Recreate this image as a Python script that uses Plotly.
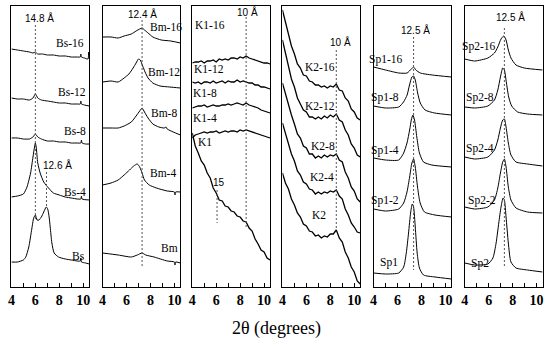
import plotly.graph_objects as go

# ---------------- data (2theta in degrees, y = relative intensity incl. stacking offset) -------------
# Panel 1 : Bs
BS16_X = [4.0, 4.5, 5.0, 5.5, 5.8, 6.0, 6.2, 6.6, 7.0, 7.5, 8.0, 8.5, 9.0, 9.5, 9.75, 9.8, 9.85, 10.1, 10.4, 10.45, 10.5]
BS16_Y = [238, 237, 236, 235, 234, 235, 233, 233, 232, 232, 231, 231, 230, 230, 230, 233, 230, 229, 228, 235, 228]
BS12_X = [4.0, 4.5, 5.0, 5.5, 5.8, 6.0, 6.2, 6.5, 7.0, 7.5, 8.0, 8.5, 9.0, 9.5, 9.75, 9.8, 9.85, 10.1, 10.5]
BS12_Y = [189, 188, 188, 187, 189, 193, 189, 187, 186, 185, 184, 184, 183, 183, 183, 186, 183, 182, 181]
BS8_X = [4.0, 4.5, 5.0, 5.5, 5.8, 6.0, 6.2, 6.5, 7.0, 7.5, 8.0, 8.5, 9.0, 9.5, 9.8, 9.85, 9.9, 10.2, 10.5]
BS8_Y = [149, 149, 148, 148, 150, 153, 150, 148, 146, 146, 145, 145, 144, 144, 144, 147, 144, 143, 143]
BS4_X = [4.0, 4.5, 5.0, 5.3, 5.6, 5.8, 5.93, 6.0, 6.07, 6.2, 6.4, 6.7, 7.1, 7.5, 8.0, 8.5, 9.0, 9.5, 9.8, 9.85, 9.9, 10.5]
BS4_Y = [90, 91, 93, 100, 114, 130, 140, 144, 140, 124, 114, 105, 99, 94, 92, 90, 89, 88, 88, 91, 88, 87]
BS_X = [4.0, 4.5, 5.0, 5.2, 5.45, 5.7, 5.86, 6.0, 6.14, 6.3, 6.5, 6.7, 6.91, 7.03, 7.15, 7.24, 7.38, 7.57, 7.93, 8.5, 9.0, 9.5, 9.75, 9.8, 9.85, 10.2, 10.5]
BS_Y = [25, 25, 27, 30, 40, 58, 69, 72, 67, 67, 70, 75, 80, 78, 70, 60, 44, 34, 30, 28, 27, 26, 26, 29, 25, 24, 23]

# Panel 2 : Bm
BM16_X = [4.0, 4.7, 5.3, 5.8, 6.4, 6.8, 7.1, 7.3, 7.5, 7.8, 8.2, 8.9, 9.7, 10.5]
BM16_Y = [250, 250, 249, 251, 253, 256, 258, 259, 257, 254, 250, 247, 246, 244]
BM12_X = [4.0, 4.7, 5.3, 5.8, 6.2, 6.55, 6.8, 7.0, 7.15, 7.35, 7.55, 7.8, 8.2, 8.8, 9.6, 10.5]
BM12_Y = [205, 206, 205, 209, 213, 219, 224, 228, 227, 221, 215, 209, 204, 201, 200, 199]
BM8_X = [4.0, 4.7, 5.3, 5.8, 6.4, 6.8, 7.1, 7.3, 7.5, 7.8, 8.2, 8.7, 9.15, 9.3, 9.4, 9.9, 10.5]
BM8_Y = [159, 159, 159, 161, 165, 171, 176, 179, 175, 169, 163, 160, 159, 160, 158, 155, 152]
BM4_X = [4.0, 4.7, 5.3, 5.8, 6.25, 6.6, 6.9, 7.1, 7.3, 7.5, 7.9, 8.5, 9.4, 10.0, 10.05, 10.1, 10.5]
BM4_Y = [102, 104, 107, 112, 117, 121, 123, 120, 114, 107, 102, 99, 96, 95, 92, 95, 95]
BM_X = [4.0, 5.3, 6.4, 6.9, 7.3, 7.6, 8.3, 9.4, 10.0, 10.05, 10.1, 10.5]
BM_Y = [34, 32, 30, 32, 34, 32, 30, 26, 25, 22, 25, 24]

# Panels 3 and 4 : K1, K2 (noisy patterns, common 2theta grid)
K_X = [4.0, 4.25, 4.5, 4.75, 5.0, 5.25, 5.5, 5.75, 6.0, 6.25, 6.5, 6.75, 7.0, 7.25,
       7.5, 7.75, 8.0, 8.25, 8.5, 8.75, 9.0, 9.25, 9.5, 9.75, 10.0, 10.25, 10.5]
K116_Y = [224, 225, 225, 226, 224, 226, 226, 227, 225, 228, 227, 228, 227, 229, 229, 228, 230, 229, 231, 229, 228, 227, 226, 225, 224, 224, 223]
K112_Y = [205, 204, 205, 203, 205, 205, 204, 206, 204, 205, 206, 204, 206, 205, 205, 207, 205, 206, 205, 204, 204, 202, 202, 200, 200, 199, 198]
K18_Y = [179, 180, 181, 181, 182, 180, 181, 182, 181, 181, 182, 182, 183, 182, 183, 184, 183, 182, 184, 182, 181, 180, 179, 177, 176, 175, 174]
K14_Y = [149, 152, 153, 154, 155, 154, 155, 155, 156, 154, 155, 156, 155, 156, 156, 155, 157, 156, 157, 156, 155, 154, 153, 152, 151, 150, 149]
K1_Y = [154, 141, 134, 126, 122, 114, 109, 99, 94, 87, 86, 81, 80, 76, 75, 71, 70, 66, 65, 59, 56, 48, 43, 37, 35, 29, 27]

K216_Y = [277, 265, 255, 241, 233, 223, 219, 212, 211, 206, 205, 202, 202, 200, 201, 199, 201, 200, 203, 197, 196, 189, 186, 178, 175, 169, 167]
K212_Y = [247, 233, 222, 208, 200, 189, 183, 177, 175, 170, 170, 168, 170, 168, 171, 169, 172, 170, 173, 167, 165, 157, 152, 143, 139, 132, 130]
K28_Y = [204, 193, 184, 172, 163, 153, 149, 141, 139, 133, 133, 129, 131, 129, 132, 130, 132, 131, 133, 127, 125, 115, 109, 100, 96, 88, 85]
K24_Y = [164, 153, 144, 133, 126, 116, 112, 105, 103, 98, 97, 93, 95, 93, 95, 94, 96, 95, 97, 91, 88, 78, 72, 64, 60, 55, 54]
K2_Y = [114, 104, 98, 88, 82, 74, 70, 63, 61, 56, 55, 51, 52, 49, 51, 50, 53, 53, 57, 49, 45, 35, 29, 20, 15, 6, 3]

# Panel 5 : Sp1
SP116_X = [4.0, 5.0, 6.1, 6.8, 7.15, 7.34, 7.53, 7.9, 8.9, 10.5]
SP116_Y = [220, 217, 214, 214, 218, 220, 217, 214, 212, 210]
SP18_X = [4.0, 5.0, 6.1, 6.5, 6.8, 7.0, 7.2, 7.34, 7.48, 7.68, 7.9, 8.3, 9.1, 10.5]
SP18_Y = [181, 179, 180, 185, 192, 202, 210, 211, 207, 194, 184, 177, 174, 172]
SP14_X = [4.0, 5.0, 6.1, 6.51, 6.79, 7.01, 7.15, 7.28, 7.42, 7.61, 7.83, 8.17, 8.86, 10.5]
SP14_Y = [129, 127, 127, 134, 144, 157, 167, 172, 167, 150, 134, 125, 122, 120]
SP12_X = [4.0, 5.0, 6.1, 6.51, 6.79, 7.01, 7.2, 7.34, 7.48, 7.67, 7.89, 8.25, 9.13, 10.5]
SP12_Y = [78, 76, 78, 84, 95, 110, 124, 128, 120, 100, 84, 75, 72, 70]
SP1_X = [4.0, 5.0, 6.1, 6.51, 6.73, 6.92, 7.09, 7.23, 7.34, 7.48, 7.64, 7.83, 8.17, 9.13, 10.5]
SP1_Y = [14, 13, 14, 20, 34, 54, 74, 83, 80, 60, 34, 19, 12, 10, 8]

# Panel 6 : Sp2
SP216_X = [4.0, 4.83, 5.93, 6.48, 6.76, 7.03, 7.26, 7.45, 7.64, 7.86, 8.28, 8.97, 10.5]
SP216_Y = [228, 226, 229, 234, 240, 248, 251, 247, 237, 229, 222, 219, 217]
SP28_X = [4.0, 4.83, 5.93, 6.48, 6.76, 6.98, 7.17, 7.31, 7.48, 7.67, 7.92, 8.42, 9.24, 10.5]
SP28_Y = [180, 179, 181, 187, 197, 210, 219, 217, 204, 190, 181, 175, 173, 172]
SP24_X = [4.0, 4.83, 5.93, 6.48, 6.76, 6.98, 7.17, 7.31, 7.45, 7.64, 7.86, 8.28, 9.24, 10.5]
SP24_Y = [130, 128, 130, 137, 147, 159, 167, 168, 160, 144, 132, 125, 123, 121]
SP22_X = [4.0, 4.83, 5.93, 6.48, 6.76, 6.98, 7.17, 7.31, 7.45, 7.64, 7.86, 8.28, 9.24, 10.5]
SP22_Y = [80, 78, 80, 87, 99, 114, 125, 128, 120, 100, 87, 79, 75, 74]
SP2_X = [4.0, 4.83, 5.93, 6.35, 6.62, 6.84, 7.03, 7.2, 7.31, 7.45, 7.64, 7.86, 8.28, 9.24, 10.5]
SP2_Y = [24, 22, 23, 29, 44, 64, 80, 89, 87, 70, 44, 25, 19, 17, 15]

# reference d-spacing guide lines: (2theta, y_top, y_bottom)
GUIDES = [
    [(6.0, 262, 67), (6.93, 115, 80)],
    [(7.3, 267, 20)],
    [(8.5, 270, 59), (6.07, 97, 64)],
    [(8.5, 237, 57)],
    [(7.34, 250, 17)],
    [(7.31, 259, 20)],
]

# curve labels: (text, x, y)
CURVE_LABELS = [
    [("Bs-16", 8.93, 244), ("Bs-12", 9.09, 195), ("Bs-8", 9.34, 156), ("Bs-4", 9.34, 95), ("Bs", 9.59, 31)],
    [("Bm-16", 9.3, 260), ("Bm-12", 9.17, 215), ("Bm-8", 9.15, 174), ("Bm-4", 9.07, 114), ("Bm", 9.63, 39)],
    [("K1-16", 5.52, 262), ("K1-12", 5.38, 218), ("K1-8", 5.1, 194), ("K1-4", 5.1, 169), ("K1", 5.1, 145)],
    [("K2-16", 7.15, 220), ("K2-12", 7.15, 181), ("K2-8", 7.4, 141), ("K2-4", 7.31, 110), ("K2", 7.06, 72)],
    [("Sp1-16", 4.99, 227), ("Sp1-8", 4.93, 189), ("Sp1-4", 4.93, 137), ("Sp1-2", 4.93, 87), ("Sp1", 5.32, 25)],
    [("Sp2-16", 5.18, 240), ("Sp2-8", 5.24, 189), ("Sp2-4", 5.24, 139), ("Sp2-2", 5.4, 87), ("Sp2", 5.24, 24)],
]
SPACING_LABELS = [
    [("14.8 Å", 6.34, 269), ("12.6 Å", 7.85, 122)],
    [("12.4 Å", 7.35, 273)],
    [("10 Å", 8.6, 275), ("15", 6.24, 105)],
    [("10 Å", 8.88, 245)],
    [("12.5 Å", 7.48, 257)],
    [("12.5 Å", 7.79, 270)],
]

PANELS = [
    [(BS16_X, BS16_Y), (BS12_X, BS12_Y), (BS8_X, BS8_Y), (BS4_X, BS4_Y), (BS_X, BS_Y)],
    [(BM16_X, BM16_Y), (BM12_X, BM12_Y), (BM8_X, BM8_Y), (BM4_X, BM4_Y), (BM_X, BM_Y)],
    [(K_X, K116_Y), (K_X, K112_Y), (K_X, K18_Y), (K_X, K14_Y), (K_X, K1_Y)],
    [(K_X, K216_Y), (K_X, K212_Y), (K_X, K28_Y), (K_X, K24_Y), (K_X, K2_Y)],
    [(SP116_X, SP116_Y), (SP18_X, SP18_Y), (SP14_X, SP14_Y), (SP12_X, SP12_Y), (SP1_X, SP1_Y)],
    [(SP216_X, SP216_Y), (SP28_X, SP28_Y), (SP24_X, SP24_Y), (SP22_X, SP22_Y), (SP2_X, SP2_Y)],
]
SMOOTH = [True, True, False, False, True, True]

X_RANGE = [4, 10.5]
Y_RANGE = [0, 281]
TICK_VALS = [4, 5, 6, 7, 8, 9, 10]
TICK_TEXT = ["4", "", "6", "", "8", "", "10"]

# ---------------- figure ----------------
W, H = 550, 347
LEFTS = [7.5, 99.5, 190, 281, 373, 465]
PW = 78.5
TOP, BOT = 6, 287

fig = go.Figure()
layout = dict(
    width=W, height=H, margin=dict(l=0, r=0, t=0, b=0),
    paper_bgcolor="white", plot_bgcolor="white", showlegend=False,
)
annotations = []
for i in range(6):
    sfx = "" if i == 0 else str(i + 1)
    xa, ya = "x" + sfx, "y" + sfx
    for xs, ys in PANELS[i]:
        fig.add_trace(go.Scatter(
            x=xs, y=ys, mode="lines", xaxis=xa, yaxis=ya, hoverinfo="skip",
            line=dict(color="black", width=1 if SMOOTH[i] else 1.3,
                      shape="spline" if SMOOTH[i] else "linear",
                      smoothing=0.6 if SMOOTH[i] else None),
        ))
    for gx, g0, g1 in GUIDES[i]:
        fig.add_trace(go.Scatter(
            x=[gx, gx], y=[g0, g1], mode="lines", xaxis=xa, yaxis=ya, hoverinfo="skip",
            line=dict(color="#555555", width=1, dash="2px,2px"),
        ))
    for t, lx, ly in CURVE_LABELS[i]:
        annotations.append(dict(text=t, x=lx, y=ly, xref=xa, yref=ya, showarrow=False,
                                font=dict(family="Liberation Serif", size=11.5, color="black")))
    for t, lx, ly in SPACING_LABELS[i]:
        annotations.append(dict(text=t, x=lx, y=ly, xref=xa, yref=ya, showarrow=False,
                                font=dict(family="Liberation Sans", size=10, color="black")))
    l = LEFTS[i]
    layout["xaxis" + sfx] = dict(
        domain=[l / W, (l + PW) / W], range=X_RANGE, anchor=ya,
        showline=True, mirror=True, linecolor="black", linewidth=1,
        ticks="inside", ticklen=4, tickcolor="black", tickwidth=1,
        tickvals=TICK_VALS, ticktext=TICK_TEXT,
        tickfont=dict(family="Liberation Serif", size=14, color="black", weight="bold"),
        showgrid=False, zeroline=False,
    )
    layout["yaxis" + sfx] = dict(
        domain=[1 - BOT / H, 1 - TOP / H], range=Y_RANGE, anchor=xa,
        showline=True, mirror=True, linecolor="black", linewidth=1,
        ticks="", showticklabels=False, showgrid=False, zeroline=False,
    )

annotations.append(dict(text="2θ (degrees)", x=275 / W, y=1 - 328 / H, xref="paper", yref="paper",
                        showarrow=False, xanchor="center", yanchor="middle",
                        font=dict(family="Liberation Serif", size=18, color="black")))
layout["annotations"] = annotations
fig.update_layout(**layout)
fig.write_html(
    "out.html",
    config={"displayModeBar": False, "staticPlot": True},
    post_script="document.body.style.margin='0';document.body.style.padding='0';document.body.style.overflow='hidden';",
)
